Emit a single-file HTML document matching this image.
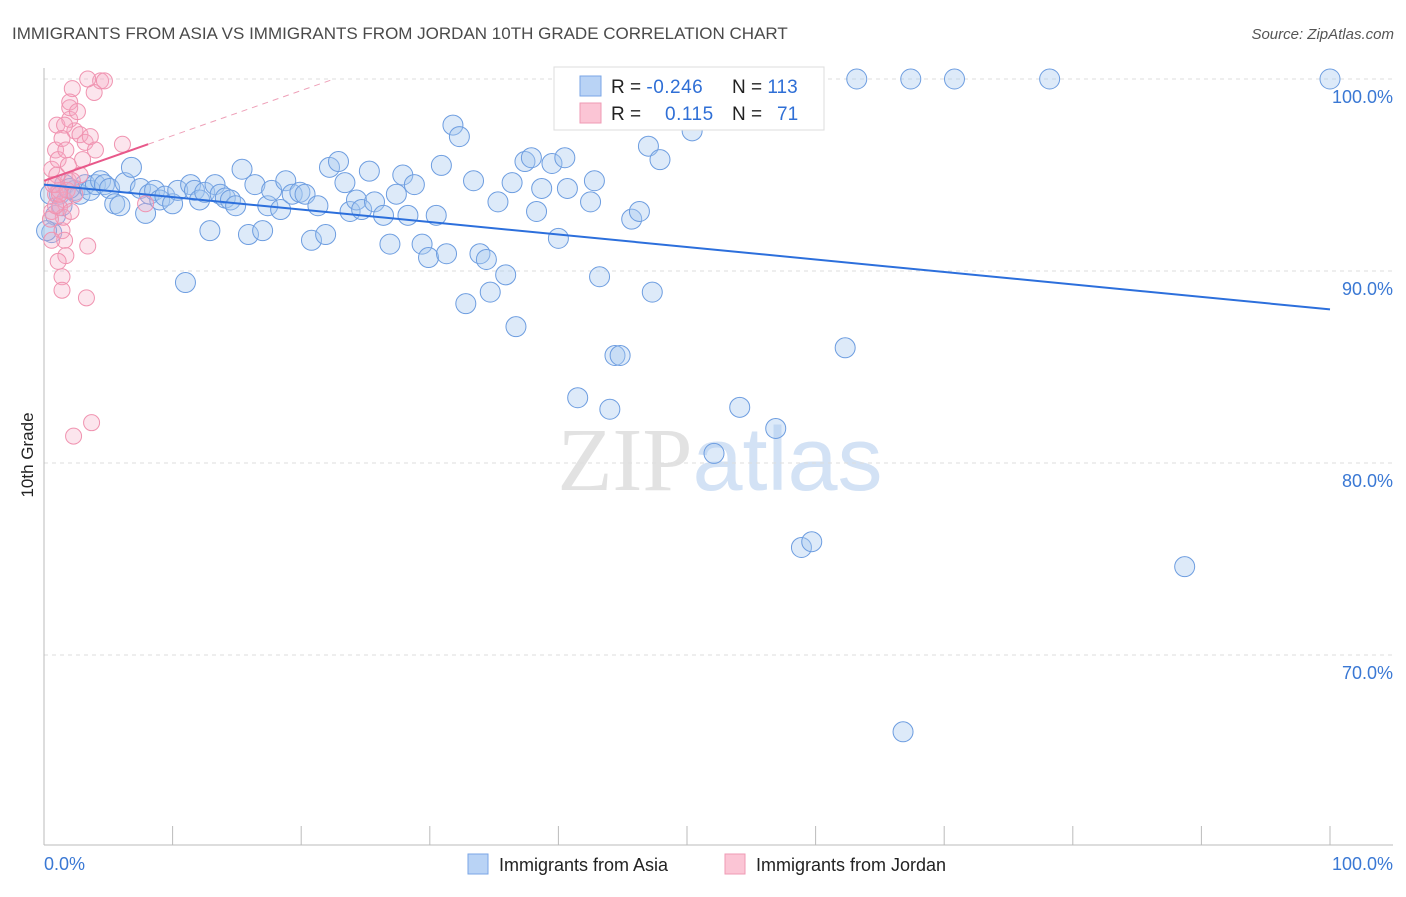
<!DOCTYPE html>
<html><head><meta charset="utf-8"><style>
body{margin:0;background:#fff;font-family:"Liberation Sans",sans-serif}
svg text{font-family:"Liberation Sans",sans-serif}
</style></head><body>
<svg id="chart" width="1406" height="892" viewBox="0 0 1406 892" xmlns="http://www.w3.org/2000/svg">
<text x="12" y="39" font-size="17" fill="#4a4a4a">IMMIGRANTS FROM ASIA VS IMMIGRANTS FROM JORDAN 10TH GRADE CORRELATION CHART</text>
<text x="1394" y="39" font-size="15" fill="#555" text-anchor="end" font-style="italic">Source: ZipAtlas.com</text>
<text x="720" y="490" font-size="90" text-anchor="middle"><tspan fill="#e2e2e2" font-family="Liberation Serif">ZIP</tspan><tspan fill="#d3e2f5">atlas</tspan></text>
<g id="grid"></g>
<g id="axes"></g>
<g id="marks"></g>
<text transform="translate(33,455) rotate(-90)" font-size="17" fill="#222" text-anchor="middle">10th Grade</text>
<g>
<rect x="554" y="67" width="270" height="63" fill="#fff" stroke="#ddd"/>
<rect x="580" y="76" width="21" height="20" fill="#b9d3f5" stroke="#7aa6e6"/>
<rect x="580" y="103" width="21" height="20" fill="#fbc5d5" stroke="#ef9ab4"/>
<text x="611" y="93" font-size="19" fill="#222">R = <tspan fill="#2f6fd6" letter-spacing="0.5">-0.246</tspan></text>
<text x="732" y="93" font-size="19" fill="#222">N = <tspan fill="#2f6fd6">113</tspan></text>
<text x="611" y="120" font-size="19" fill="#222">R = </text>
<text x="665" y="120" font-size="19" fill="#2f6fd6" letter-spacing="0.5">0.115</text>
<text x="732" y="120" font-size="19" fill="#222">N = </text>
<text x="777" y="120" font-size="19" fill="#2f6fd6">71</text>
</g>
<g>
<rect x="468" y="854" width="20" height="20" fill="#b9d3f5" stroke="#7aa6e6"/>
<text x="499" y="871" font-size="18" fill="#222">Immigrants from Asia</text>
<rect x="725" y="854" width="20" height="20" fill="#fbc5d5" stroke="#ef9ab4"/>
<text x="756" y="871" font-size="18" fill="#222">Immigrants from Jordan</text>
</g>
</svg>
<script>
const yTicks=[100,90,80,70];
const yTickLabels=["100.0%","90.0%","80.0%","70.0%"];
const xTicks=[0,10,20,30,40,50,60,70,80,90,100];
const asiaX=[0.6,0.9,1.2,1.6,2.4,2.8,3.2,3.6,4.0,4.4,4.7,5.1,5.5,5.9,6.3,6.8,7.5,7.9,8.2,8.6,9.0,9.4,10.0,10.4,11.0,11.4,11.7,12.1,12.5,12.9,13.3,13.7,14.1,14.5,14.9,15.4,15.9,16.4,17.0,17.4,17.7,18.4,18.8,19.3,19.9,20.3,20.8,21.3,21.9,22.2,22.9,23.4,23.8,24.3,24.7,25.3,25.7,26.4,26.9,27.4,27.9,28.3,28.8,29.4,29.9,30.5,30.9,31.3,31.8,32.3,32.8,33.4,33.9,34.4,34.7,35.3,35.9,36.4,36.7,37.4,37.9,38.3,38.7,39.5,40.0,40.5,40.7,41.5,42.5,42.8,43.2,44.0,44.4,44.8,45.7,46.3,47.0,47.3,47.9,50.4,52.1,52.3,52.7,53.3,54.1,56.9,58.9,59.7,62.3,63.2,66.8,67.4,70.8,78.2,88.7,100.0,0.5,1.4,2.0,0.2];
const asiaY=[92.0,92.9,94.0,94.5,94.2,94.0,94.5,94.2,94.5,94.7,94.5,94.3,93.5,93.4,94.6,95.4,94.3,93.0,94.0,94.2,93.7,93.9,93.5,94.2,89.4,94.5,94.2,93.7,94.1,92.1,94.5,94.0,93.8,93.7,93.4,95.3,91.9,94.5,92.1,93.4,94.2,93.2,94.7,94.0,94.1,94.0,91.6,93.4,91.9,95.4,95.7,94.6,93.1,93.7,93.2,95.2,93.6,92.9,91.4,94.0,95.0,92.9,94.5,91.4,90.7,92.9,95.5,90.9,97.6,97.0,88.3,94.7,90.9,90.6,88.9,93.6,89.8,94.6,87.1,95.7,95.9,93.1,94.3,95.6,91.7,95.9,94.3,83.4,93.6,94.7,89.7,82.8,85.6,85.6,92.7,93.1,96.5,88.9,95.8,97.3,80.5,98.2,99.9,99.9,82.9,81.8,75.6,75.9,86.0,100,66.0,100,100,100,74.6,100,94.0,93.4,94.3,92.1];
const jordanX=[0.6,0.9,0.6,0.9,1.0,1.1,1.2,1.4,1.6,1.7,1.4,1.4,1.6,1.9,2.0,2.0,2.2,2.0,2.4,2.6,2.8,3.0,3.2,3.3,3.4,3.6,3.7,3.9,4.0,4.4,4.7,2.3,6.1,7.9,0.9,1.0,1.2,1.5,1.8,2.1,2.4,2.8,0.5,0.6,1.1,1.6,3.4,1.4,1.7,0.9,0.7,1.2,1.9,2.2];
const jordanY=[93.1,94.0,95.3,96.3,97.6,95.8,94.2,92.1,91.6,90.8,89.7,89.0,93.7,94.7,97.9,98.5,99.5,98.8,97.3,98.3,97.1,95.8,96.7,88.6,91.3,97.0,82.1,99.3,96.3,99.9,99.9,81.4,96.6,93.5,94.5,95.0,93.3,92.8,94.2,93.1,94.0,95.0,92.7,91.6,90.5,97.6,100,96.9,96.3,93.4,94.5,94.0,95.5,94.7];
const asiaTrend=[94.5,88.0];
const jordanTrend=[94.7,0.235]; // intercept, slope per %
const NS="http://www.w3.org/2000/svg";
const X=v=>44+v*12.86, Y=v=>79+(100-v)*19.2;
function mk(tag,attrs,parent){const e=document.createElementNS(NS,tag);for(const k in attrs)e.setAttribute(k,attrs[k]);document.getElementById(parent).appendChild(e);return e;}
yTicks.forEach((t,i)=>{
 const l=mk('line',{x1:44,x2:1393,y1:Y(t),y2:Y(t),stroke:'#ddd','stroke-dasharray':'4,4'},'grid');
 
 
 const tx=mk('text',{x:1393,y:Y(t)+24,'font-size':18,fill:'#3a78d4','text-anchor':'end'},'axes');
 tx.textContent=yTickLabels[i];
 
 
});
const ax=mk('line',{x1:44,x2:44,y1:68,y2:845,stroke:'#bbb'},'axes');


const bx=mk('line',{x1:44,x2:1393,y1:845,y2:845,stroke:'#bbb'},'axes');


xTicks.forEach(t=>{
 const l=mk('line',{x1:X(t),x2:X(t),y1:826,y2:845,stroke:'#bbb'},'axes');
 
 
});
const xl0=mk('text',{x:44,y:870,'font-size':18,fill:'#3a78d4'},'axes');xl0.textContent='0.0%';


const xl1=mk('text',{x:1393,y:870,'font-size':18,fill:'#3a78d4','text-anchor':'end'},'axes');xl1.textContent='100.0%';


asiaX.forEach((x,i)=>{
 const c=mk('circle',{cx:X(x),cy:Y(asiaY[i]),r:10,fill:'rgba(165,199,240,0.38)',stroke:'#6d9de0','stroke-width':1},'marks');
 
 
});
jordanX.forEach((x,i)=>{
 const c=mk('circle',{cx:X(x),cy:Y(jordanY[i]),r:8,fill:'rgba(245,170,195,0.3)',stroke:'#f093b0','stroke-width':1},'marks');
 
 
});
const t1=mk('line',{x1:X(0),y1:Y(asiaTrend[0]),x2:X(100),y2:Y(asiaTrend[1]),stroke:'#2c6fdc','stroke-width':2},'marks');


const jEnd=8.1, jMax=(100-jordanTrend[0])/jordanTrend[1];
const t2=mk('line',{x1:X(0),y1:Y(jordanTrend[0]),x2:X(jEnd),y2:Y(jordanTrend[0]+jordanTrend[1]*jEnd),stroke:'#e8588a','stroke-width':2},'marks');


const t3=mk('line',{x1:X(jEnd),y1:Y(jordanTrend[0]+jordanTrend[1]*jEnd),x2:X(jMax),y2:Y(100),stroke:'#eea0b8','stroke-width':1,'stroke-dasharray':'6,5'},'marks');


</script>
</body></html>
